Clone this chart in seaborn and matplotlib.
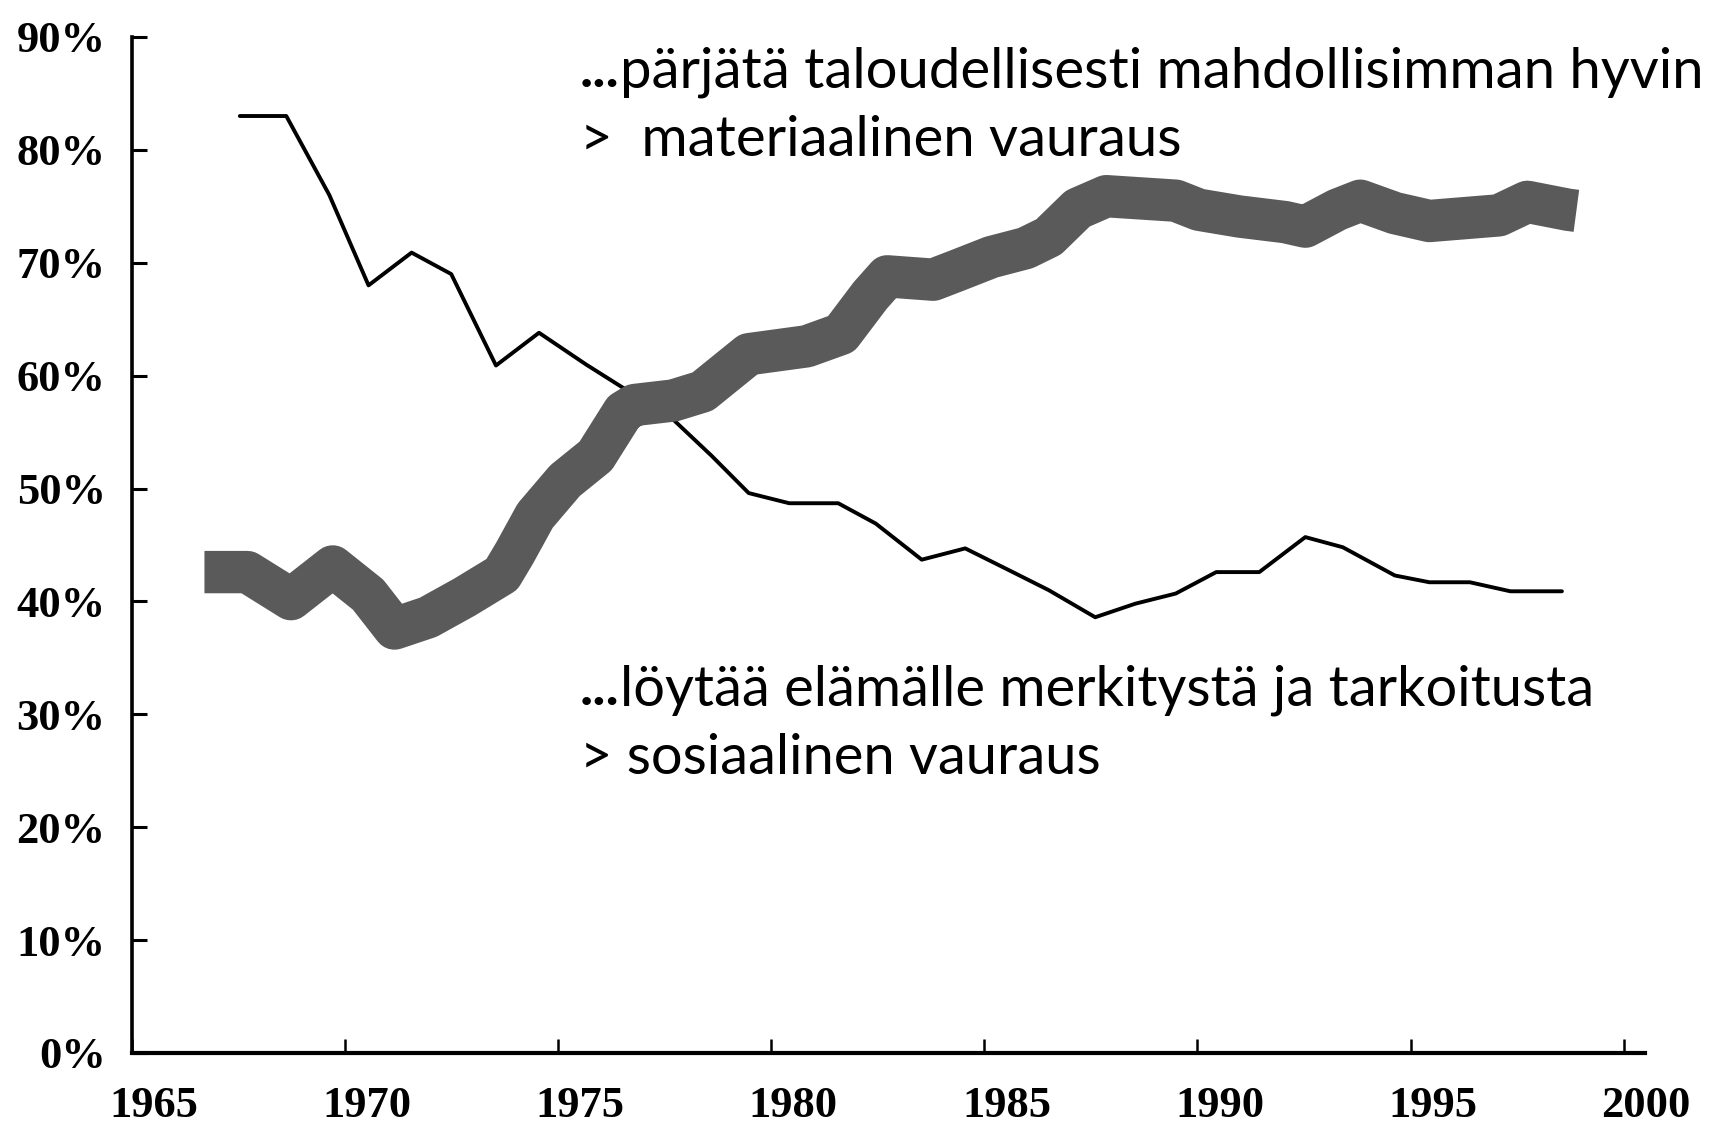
import matplotlib
matplotlib.use("Agg")
import matplotlib.pyplot as plt
import seaborn as sns
import pandas as pd
from matplotlib.transforms import ScaledTranslation

# ---------------- data ----------------
# "...löytää elämälle merkitystä ja tarkoitusta" (thin black line)
meaning_years = [1967.53, 1968.62, 1969.63, 1970.55, 1971.56, 1972.49, 1973.54, 1974.55,
                 1975.65, 1976.49, 1977.59, 1978.60, 1979.47, 1980.42, 1981.57, 1982.45,
                 1983.53, 1984.55, 1985.56, 1986.51, 1987.60, 1988.54, 1989.49, 1990.44,
                 1991.45, 1992.53, 1993.41, 1994.63, 1995.44, 1996.39, 1997.34, 1998.55]
meaning_values = [83.0, 83.0, 76.0, 68.0, 70.9, 69.0, 60.9, 63.8,
                  61.0, 59.0, 56.5, 52.9, 49.6, 48.7, 48.7, 46.9,
                  43.7, 44.7, 42.8, 41.0, 38.6, 39.8, 40.7, 42.6,
                  42.6, 45.7, 44.8, 42.3, 41.7, 41.7, 40.9, 40.9]

# "...pärjätä taloudellisesti mahdollisimman hyvin" (thick grey line)
wealth_years = [1966.70, 1967.71, 1968.73, 1969.71, 1970.54, 1971.16, 1971.95, 1972.81,
                1973.68, 1973.98, 1974.46, 1975.16, 1975.88, 1976.53, 1976.79, 1977.70,
                1978.39, 1979.47, 1980.83, 1981.64, 1982.32, 1982.72, 1983.80, 1984.35,
                1985.16, 1985.97, 1986.51, 1987.19, 1987.86, 1989.49, 1990.03, 1990.98,
                1992.06, 1992.53, 1993.28, 1993.82, 1994.63, 1995.44, 1997.07, 1997.74,
                1998.69, 1998.89]
wealth_values = [42.6, 42.6, 40.2, 43.1, 40.6, 37.6, 38.6, 40.4,
                 42.4, 44.3, 47.6, 50.7, 52.9, 56.8, 57.4, 57.8,
                 58.6, 61.9, 62.6, 63.7, 67.1, 68.8, 68.5, 69.3,
                 70.5, 71.3, 72.3, 74.8, 75.9, 75.5, 74.7, 74.1,
                 73.6, 73.2, 74.7, 75.5, 74.4, 73.7, 74.2, 75.4,
                 74.7, 74.6]

y_ticks = [0, 10, 20, 30, 40, 50, 60, 70, 80, 90]
y_tick_labels = ["0%", "10%", "20%", "30%", "40%", "50%", "60%", "70%", "80%", "90%"]
x_ticks = [1965, 1970, 1975, 1980, 1985, 1990, 1995, 2000]
x_tick_labels = ["1965", "1970", "1975", "1980", "1985", "1990", "1995", "2000"]

top_lines = ["pärjätä taloudellisesti mahdollisimman hyvin", ">  materiaalinen vauraus"]
bottom_lines = ["löytää elämälle merkitystä ja tarkoitusta", "> sosiaalinen vauraus"]

# ---------------- figure ----------------
sns.set_theme(style="white")
plt.rcParams["font.family"] = ["Lato", "DejaVu Sans"]

W, H, DPI = 1723, 1134, 100
fig = plt.figure(figsize=(W / DPI, H / DPI), dpi=DPI, facecolor="white")
ax = fig.add_axes([132 / W, 81 / H, (1645 - 132) / W, (1053 - 37) / H])
ax.set_facecolor("white")

df_meaning = pd.DataFrame({"year": meaning_years, "pct": meaning_values})
df_wealth = pd.DataFrame({"year": wealth_years, "pct": wealth_values})

sns.lineplot(data=df_meaning, x="year", y="pct", ax=ax, color="black", linewidth=2.8,
             sort=False, estimator=None, zorder=2)
sns.lineplot(data=df_wealth, x="year", y="pct", ax=ax, color="#5a5a5a", linewidth=30.5,
             sort=False, estimator=None, zorder=3,
             solid_capstyle="butt", solid_joinstyle="round")

ax.set_xlim(1965, 2000.5)
ax.set_ylim(0, 90)
ax.set_xlabel("")
ax.set_ylabel("")

for side in ["top", "right"]:
    ax.spines[side].set_visible(False)
ax.spines["left"].set_linewidth(2.6)
ax.spines["bottom"].set_linewidth(3.0)
ax.spines["left"].set_color("black")
ax.spines["bottom"].set_color("black")

ax.set_yticks(y_ticks)
ax.set_yticklabels(y_tick_labels)
ax.set_xticks(x_ticks)
ax.set_xticklabels(x_tick_labels)

for lab in ax.get_yticklabels() + ax.get_xticklabels():
    lab.set_fontfamily(["Liberation Serif", "DejaVu Serif"])
    lab.set_fontweight("bold")
    lab.set_fontsize(32)
    lab.set_color("black")

ax.tick_params(axis="y", direction="in", length=11, width=2.2, pad=19, left=True, colors="black")
ax.tick_params(axis="x", direction="in", length=10, width=1.8, pad=24, bottom=True, colors="black")

# x tick labels sit slightly right of their ticks in the reference
shift = ScaledTranslation(22 / DPI, 0, fig.dpi_scale_trans)
for lab in ax.get_xticklabels():
    lab.set_transform(lab.get_transform() + shift)

# ---------------- annotations ----------------
renderer = fig.canvas.get_renderer()
TEXT_FAMILY = ["Lato", "DejaVu Sans"]


def fit_size(text, target_w, base=30):
    t = fig.text(0, 0, text, fontsize=base, family=TEXT_FAMILY)
    w = t.get_window_extent(renderer).width
    t.remove()
    return base * target_w / w


def place_block(x_px, baselines_px, lines, target_w):
    size = fit_size("..." + lines[0], target_w)
    y1 = 1 - baselines_px[0] / H
    t_dots = fig.text(x_px / W, y1, "...", fontsize=size, family=TEXT_FAMILY,
                      fontweight="bold", va="baseline", ha="left", color="black")
    wd = t_dots.get_window_extent(renderer).width
    fig.text((x_px + wd) / W, y1, lines[0], fontsize=size, family=TEXT_FAMILY,
             va="baseline", ha="left", color="black")
    fig.text(x_px / W, 1 - baselines_px[1] / H, lines[1], fontsize=size,
             family=TEXT_FAMILY, va="baseline", ha="left", color="black")


place_block(580, [87, 156], top_lines, 1123)
place_block(580, [705, 774], bottom_lines, 1011)

fig.savefig("out.png", dpi=DPI, facecolor="white")
